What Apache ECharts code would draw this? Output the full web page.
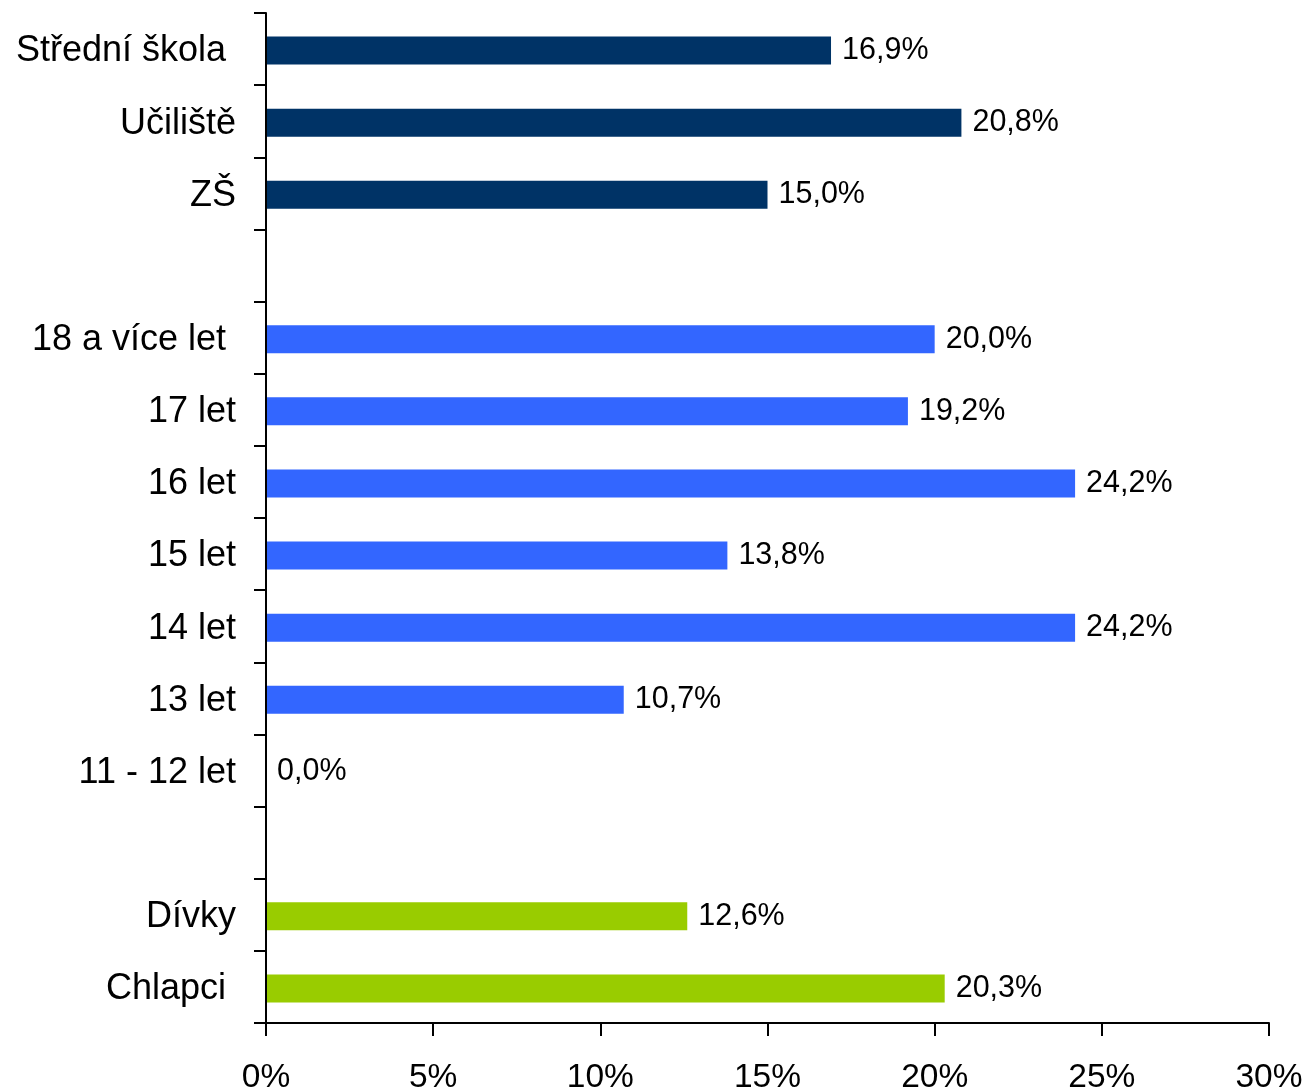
<!DOCTYPE html>
<html>
<head>
<meta charset="utf-8">
<script src="https://cdn.jsdelivr.net/npm/echarts@6/dist/echarts.min.js"></script>
<style>
html,body{margin:0;padding:0;background:#fff;}
#chart{width:1307px;height:1091px;}
</style>
</head>
<body>
<div id="chart"></div>
<script>
// Data (top to bottom)
var schoolCategories = ['Střední škola ', 'Učiliště', 'ZŠ'];
var schoolValues = [16.9, 20.8, 15.0];
var ageCategories = ['18 a více let ', '17 let', '16 let', '15 let', '14 let', '13 let', '11 - 12 let'];
var ageValues = [20.0, 19.2, 24.2, 13.8, 24.2, 10.7, 0.0];
var genderCategories = ['Dívky', 'Chlapci '];
var genderValues = [12.6, 20.3];
var xTicks = [0, 5, 10, 15, 20, 25, 30];

var gap1 = ' ', gap2 = '  ';
var categories = [].concat(schoolCategories, [gap1], ageCategories, [gap2], genderCategories);

function place(values, offset) {
  var arr = categories.map(function () { return null; });
  values.forEach(function (v, i) { arr[offset + i] = v; });
  return arr;
}
var schoolData = place(schoolValues, 0);
var ageData = place(ageValues, schoolCategories.length + 1);
var genderData = place(genderValues, schoolCategories.length + ageCategories.length + 2);

var font = '"Liberation Sans", Arial, sans-serif';
function mkSeries(name, data, color) {
  return {
    name: name,
    type: 'bar',
    stack: 'all',
    xAxisIndex: 1,
    yAxisIndex: 1,
    data: data,
    barWidth: 28,
    itemStyle: { color: color },
    label: {
      show: true,
      position: 'right',
      distance: 11,
      color: '#000',
      fontFamily: font,
      fontSize: 30.5,
      formatter: function (p) {
        if (p.value === null || p.value === undefined || p.value === '-') return '';
        return Number(p.value).toFixed(1).replace('.', ',') + '%';
      }
    },
    animation: false
  };
}

var axisLineStyle = { color: '#000', width: 2 };
var chart = echarts.init(document.getElementById('chart'), null, { renderer: 'canvas' });
chart.setOption({
  animation: false,
  backgroundColor: '#fff',
  grid: [
    { left: 266, right: 38, top: 13, bottom: 68, containLabel: false, outerBoundsMode: 'none' },
    { left: 266, right: 38, top: 14.5, bottom: 66.5, containLabel: false, outerBoundsMode: 'none' },
    { left: 266, right: 38, top: 15.5, bottom: 65.5, containLabel: false, outerBoundsMode: 'none' }
  ],
  xAxis: [{
    type: 'value',
    gridIndex: 0,
    min: xTicks[0],
    max: xTicks[xTicks.length - 1],
    interval: 5,
    axisLine: { show: true, lineStyle: axisLineStyle },
    axisTick: { show: true, length: 13, lineStyle: axisLineStyle },
    splitLine: { show: false },
    axisLabel: {
      color: '#000', fontFamily: font, fontSize: 33.5, margin: 38,
      formatter: '{value}%'
    }
  }, {
    type: 'value', gridIndex: 1, min: xTicks[0], max: xTicks[xTicks.length - 1], interval: 5, show: false
  }, {
    type: 'value', gridIndex: 2, min: xTicks[0], max: xTicks[xTicks.length - 1], interval: 5, show: false
  }],
  yAxis: [{
    type: 'category',
    gridIndex: 0,
    inverse: true,
    data: categories,
    axisLine: { show: true, lineStyle: axisLineStyle },
    axisTick: { show: true, length: 12, lineStyle: axisLineStyle },
    axisLabel: { show: false },
    z: 5
  }, {
    type: 'category',
    gridIndex: 1,
    inverse: true,
    data: categories,
    show: false
  }, {
    type: 'category',
    gridIndex: 2,
    inverse: true,
    data: categories,
    axisLine: { show: false },
    axisTick: { show: false },
    splitLine: { show: false },
    axisLabel: { color: '#000', fontFamily: font, fontSize: 36, margin: 30 }
  }],
  series: [
    mkSeries('Škola', schoolData, '#003366'),
    mkSeries('Věk', ageData, '#3366FF'),
    mkSeries('Pohlaví', genderData, '#99CC00')
  ]
});
</script>
</body>
</html>
